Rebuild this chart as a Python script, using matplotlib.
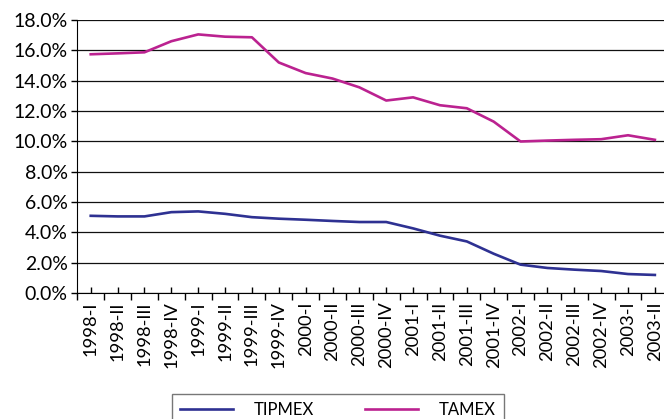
import matplotlib
matplotlib.use("Agg")
import matplotlib.pyplot as plt
from matplotlib.ticker import FuncFormatter

plt.rcParams['font.family'] = ['Lato', 'DejaVu Sans']

quarters = ['1998-I', '1998-II', '1998-III', '1998-IV',
            '1999-I', '1999-II', '1999-III', '1999-IV',
            '2000-I', '2000-II', '2000-III', '2000-IV',
            '2001-I', '2001-II', '2001-III', '2001-IV',
            '2002-I', '2002-II', '2002-III', '2002-IV',
            '2003-I', '2003-II']

tipmex = [5.09, 5.05, 5.05, 5.33, 5.38, 5.22, 5.00, 4.90, 4.83, 4.75, 4.68,
          4.68, 4.26, 3.78, 3.40, 2.59, 1.87, 1.65, 1.54, 1.45, 1.25, 1.19]
tamex = [15.74, 15.80, 15.87, 16.60, 17.05, 16.90, 16.86, 15.20, 14.50, 14.14,
         13.56, 12.69, 12.90, 12.38, 12.18, 11.30, 9.99, 10.05, 10.10, 10.14,
         10.40, 10.10]

W, H = 664, 419
fig = plt.figure(figsize=(W / 100, H / 100), dpi=100)
# plot area runs a bit past the right edge, as in the source image
ax = fig.add_axes([77.3 / W, (H - 293) / H, 591 / W, 273 / H])

x = list(range(len(quarters)))
l1, = ax.plot(x, tipmex, color='#2e3192', lw=1.9, label='TIPMEX')
l2, = ax.plot(x, tamex, color='#bb2290', lw=1.9, label='TAMEX')

ax.set_xlim(-0.5, len(quarters) - 0.5)
ax.set_ylim(0, 18)
ax.set_yticks(range(0, 19, 2))
ax.yaxis.set_major_formatter(FuncFormatter(lambda v, p: '%.1f%%' % v))
ax.grid(axis='y', color='#111111', lw=0.9)
ax.set_axisbelow(True)

ax.set_xticks([i - 0.5 for i in range(len(quarters) + 1)])
ax.set_xticklabels([])
ax.set_xticks(x, minor=True)
ax.set_xticklabels(quarters, minor=True, rotation=90, fontsize=13.2)
ax.tick_params(axis='x', which='major', direction='out', length=5, width=1)
ax.tick_params(axis='x', which='minor', direction='in', length=4, width=1, pad=6)
ax.tick_params(axis='y', direction='out', length=4, width=1, labelsize=14, pad=3)

for s in ['top', 'right']:
    ax.spines[s].set_visible(False)
ax.spines['left'].set_color('black')
ax.spines['bottom'].set_color('black')

leg = fig.legend(handles=[l1, l2], loc='upper left', ncol=2, mode='expand',
                 bbox_to_anchor=(171.7 / W, 1 - 397.7 / H, 332 / W, 0.01),
                 fontsize=12, frameon=True, fancybox=False, handlelength=3.2,
                 borderaxespad=0, handletextpad=1.2, borderpad=0.5)
leg.get_frame().set_edgecolor('#555555')
leg.get_frame().set_linewidth(1.0)

fig.savefig('out.png', dpi=100)
